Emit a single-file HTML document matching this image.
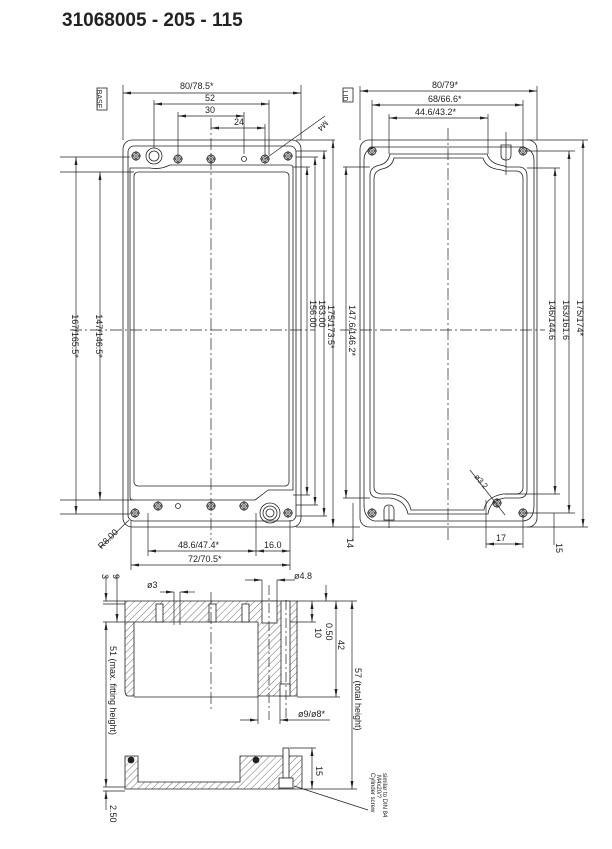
<!DOCTYPE html>
<html><head><meta charset="utf-8"><style>
html,body{margin:0;padding:0;background:#fff;}
svg{display:block}
text{font-family:"Liberation Sans",sans-serif;fill:#222;}
</style></head><body>
<svg width="612" height="849" viewBox="0 0 612 849" xmlns="http://www.w3.org/2000/svg">
<defs>
<pattern id="h" width="5" height="5" patternUnits="userSpaceOnUse" patternTransform="rotate(45)">
<line x1="0" y1="0" x2="0" y2="5" stroke="#333" stroke-width="0.7"/>
</pattern>
<marker id="a" markerWidth="8" markerHeight="6" refX="8" refY="3" orient="auto-start-reverse" markerUnits="userSpaceOnUse"><path d="M0,1.5 L8,3 L0,4.5z" fill="#222"/></marker>
<g id="hole"><circle r="4" fill="none" stroke="#222" stroke-width="0.9"/><circle r="2.4" fill="none" stroke="#222" stroke-width="0.7"/><line x1="-5" y1="0" x2="5" y2="0" stroke="#222" stroke-width="0.6"/><line x1="0" y1="-5" x2="0" y2="5" stroke="#222" stroke-width="0.6"/></g>
</defs>
<text x="62" y="26" font-size="19" font-weight="bold" fill="#222">31068005 - 205 - 115</text>

<g fill="none" stroke="#222" stroke-width="0.8">
<!-- BASE -->
<rect x="97" y="88" width="10" height="22"/>
<rect x="123" y="140" width="178" height="387" rx="9"/>
<rect x="128" y="146" width="168" height="375" rx="6"/>
<path d="M130,168 L130,497 Q130,500 133,500 L255,500 Q262,495 268,490 L293,490 L293,168 Q293,165 290,165 L170,165 Q160,170 150,168 Z"/>
<rect x="134" y="172" width="155" height="314" rx="4"/>
<circle cx="154" cy="156" r="8"/><circle cx="154" cy="156" r="5"/>
<circle cx="270" cy="513" r="10"/><circle cx="270" cy="513" r="7"/><circle cx="270" cy="513" r="4"/>
<circle cx="244" cy="159" r="2.5"/>
<circle cx="178" cy="506" r="2.5"/>
</g>
<use href="#hole" x="136" y="156"/><use href="#hole" x="178" y="159"/><use href="#hole" x="211" y="159"/><use href="#hole" x="265" y="159"/><use href="#hole" x="288" y="156"/>
<use href="#hole" x="135" y="513"/><use href="#hole" x="158" y="506"/><use href="#hole" x="211" y="506"/><use href="#hole" x="244" y="506"/><use href="#hole" x="288" y="513"/>

<g fill="none" stroke="#222" stroke-width="0.7">
<line x1="211" y1="118" x2="211" y2="540" stroke-dasharray="12,3,2,3"/>
<line x1="70" y1="330" x2="315" y2="330" stroke-dasharray="12,3,2,3"/>
<line x1="123" y1="85" x2="123" y2="140"/><line x1="301" y1="85" x2="301" y2="140"/>
<line x1="123" y1="93" x2="301" y2="93" marker-start="url(#a)" marker-end="url(#a)"/>
<line x1="154" y1="100" x2="154" y2="148"/><line x1="269" y1="100" x2="269" y2="155"/>
<line x1="154" y1="104" x2="269" y2="104" marker-start="url(#a)" marker-end="url(#a)"/>
<line x1="178" y1="112" x2="178" y2="154"/><line x1="244" y1="112" x2="244" y2="154"/>
<line x1="178" y1="116" x2="244" y2="116" marker-start="url(#a)" marker-end="url(#a)"/>
<line x1="265" y1="124" x2="265" y2="154"/>
<line x1="211" y1="128" x2="265" y2="128" marker-start="url(#a)" marker-end="url(#a)"/>
<line x1="265" y1="159" x2="325" y2="116"/>
<line x1="60" y1="157" x2="130" y2="157"/><line x1="60" y1="172" x2="134" y2="172"/>
<line x1="60" y1="500" x2="134" y2="500"/><line x1="60" y1="514" x2="130" y2="514"/>
<line x1="76" y1="157" x2="76" y2="514" marker-start="url(#a)" marker-end="url(#a)"/>
<line x1="100" y1="172" x2="100" y2="500" marker-start="url(#a)" marker-end="url(#a)"/>
<line x1="296" y1="140" x2="335" y2="140"/><line x1="296" y1="151" x2="327" y2="151"/>
<line x1="296" y1="157" x2="318" y2="157"/><line x1="293" y1="167" x2="310" y2="167"/>
<line x1="296" y1="527" x2="360" y2="527"/><line x1="296" y1="516" x2="327" y2="516"/>
<line x1="296" y1="505" x2="318" y2="505"/><line x1="293" y1="495" x2="310" y2="495"/>
<line x1="307" y1="167" x2="307" y2="495" marker-start="url(#a)" marker-end="url(#a)"/>
<line x1="315" y1="157" x2="315" y2="505" marker-start="url(#a)" marker-end="url(#a)"/>
<line x1="324" y1="151" x2="324" y2="516" marker-start="url(#a)" marker-end="url(#a)"/>
<line x1="333" y1="140" x2="333" y2="527" marker-start="url(#a)" marker-end="url(#a)"/>
<line x1="148" y1="513" x2="148" y2="556"/><line x1="256" y1="513" x2="256" y2="556"/>
<line x1="148" y1="551" x2="256" y2="551" marker-start="url(#a)" marker-end="url(#a)"/>
<line x1="290" y1="520" x2="290" y2="570"/>
<line x1="256" y1="551" x2="290" y2="551" marker-start="url(#a)" marker-end="url(#a)"/>
<line x1="131" y1="520" x2="131" y2="570"/>
<line x1="131" y1="565" x2="290" y2="565" marker-start="url(#a)" marker-end="url(#a)"/>
<line x1="129" y1="520" x2="100" y2="548"/>
</g>
<g font-size="9">
<text x="180" y="89">80/78.5*</text>
<text x="205" y="101">52</text>
<text x="205" y="113">30</text>
<text x="234" y="125">24</text>
<text x="178" y="548">48.6/47.4*</text>
<text x="264" y="548">16.0</text>
<text x="188" y="562">72/70.5*</text>
<text transform="translate(100,99) rotate(90)" font-size="7" text-anchor="middle" dy="3">BASE</text>
<text transform="translate(325,120) rotate(135)" font-size="8">M4</text>
<text transform="translate(96,544) rotate(-45)" font-size="9" dy="8">R8.00</text>
<text transform="translate(72,336) rotate(90)" text-anchor="middle">167/165.5*</text>
<text transform="translate(96,336) rotate(90)" text-anchor="middle">147/146.5*</text>
<text transform="translate(310,300) rotate(90)">156.00</text>
<text transform="translate(319,300) rotate(90)">163.00</text>
<text transform="translate(328,305) rotate(90)">175/173.5*</text>
</g>

<!-- LID -->
<g fill="none" stroke="#222" stroke-width="0.8">
<rect x="343" y="88" width="10" height="14"/>
<rect x="360" y="140" width="177" height="387" rx="9"/>
<path d="M364,160 Q364,150 374,147 L523,147 Q534,150 534,160 L534,505 Q534,521 522,521 L374,521 Q364,518 364,505 Z"/>
<path d="M370,175 Q370,167 380,165 Q388,163 390,154 L487,154 Q490,163 500,165 Q505,166 507,167 L520,167 Q527,168 527,176 L527,490 Q527,497 520,498 L505,498 Q490,500 488,514 L408,514 Q405,500 390,498 L378,498 Q370,497 370,490 Z"/>
<path d="M374,179 Q374,171 382,169 Q392,167 394,158 L483,158 Q486,167 496,169 Q502,170 505,171 L517,171 Q523,172 523,179 L523,487 Q523,493 517,494 L503,494 Q486,497 484,510 L411,510 Q408,496 392,494 L381,494 Q374,493 374,487 Z"/>
<path d="M501,145 L501,155 Q501,160 506,160 Q511,160 511,155 L511,145 Z"/>
<path d="M384,520 L384,510 Q384,505 389,505 Q394,505 394,510 L394,520 Z"/>
</g>
<use href="#hole" x="372" y="151"/><use href="#hole" x="523" y="151"/>
<use href="#hole" x="372" y="513"/><use href="#hole" x="523" y="513"/><use href="#hole" x="497" y="503"/>
<g fill="none" stroke="#222" stroke-width="0.7">
<line x1="448" y1="128" x2="448" y2="540" stroke-dasharray="12,3,2,3"/>
<line x1="340" y1="330" x2="545" y2="330" stroke-dasharray="12,3,2,3"/>
<line x1="506" y1="132" x2="506" y2="175"/><line x1="389" y1="506" x2="389" y2="528"/>
<line x1="360" y1="86" x2="360" y2="140"/><line x1="537" y1="86" x2="537" y2="140"/>
<line x1="360" y1="91" x2="537" y2="91" marker-start="url(#a)" marker-end="url(#a)"/>
<line x1="372" y1="100" x2="372" y2="147"/><line x1="523" y1="100" x2="523" y2="147"/>
<line x1="372" y1="105" x2="523" y2="105" marker-start="url(#a)" marker-end="url(#a)"/>
<line x1="389" y1="114" x2="389" y2="154"/><line x1="488" y1="114" x2="488" y2="154"/>
<line x1="389" y1="118" x2="488" y2="118" marker-start="url(#a)" marker-end="url(#a)"/>
<line x1="343" y1="167" x2="370" y2="167"/><line x1="343" y1="498" x2="370" y2="498"/>
<line x1="346" y1="167" x2="346" y2="498" marker-start="url(#a)" marker-end="url(#a)"/>
<line x1="527" y1="140" x2="588" y2="140"/><line x1="527" y1="151" x2="575" y2="151"/>
<line x1="527" y1="168" x2="560" y2="168"/>
<line x1="527" y1="527" x2="588" y2="527"/><line x1="523" y1="513" x2="575" y2="513"/>
<line x1="505" y1="494" x2="560" y2="494"/>
<line x1="555" y1="168" x2="555" y2="494" marker-start="url(#a)" marker-end="url(#a)"/>
<line x1="569" y1="151" x2="569" y2="513" marker-start="url(#a)" marker-end="url(#a)"/>
<line x1="583" y1="140" x2="583" y2="527" marker-start="url(#a)" marker-end="url(#a)"/>
<line x1="486" y1="500" x2="486" y2="548"/><line x1="523" y1="515" x2="523" y2="548"/>
<line x1="486" y1="544" x2="523" y2="544" marker-start="url(#a)" marker-end="url(#a)"/>
<line x1="353" y1="503" x2="353" y2="540"/><line x1="554" y1="513" x2="554" y2="545"/>
<line x1="470" y1="470" x2="505" y2="515"/>
</g>
<g font-size="9">
<text x="432" y="88">80/79*</text>
<text x="428" y="102">68/66.6*</text>
<text x="415" y="115">44.6/43.2*</text>
<text x="496" y="541">17</text>
<text transform="translate(346,96) rotate(90)" font-size="7" text-anchor="middle" dy="3">LID</text>
<text transform="translate(474,477) rotate(50)" font-size="8">ø3.2</text>
<text transform="translate(347,538) rotate(90)">14</text>
<text transform="translate(556,543) rotate(90)">15</text>
<text transform="translate(349,305) rotate(90)">147.6/146.2*</text>
<text transform="translate(549,300) rotate(90)">146/144.6</text>
<text transform="translate(563,300) rotate(90)">163/161.6</text>
<text transform="translate(577,300) rotate(90)">175/174*</text>
</g>

<!-- SECTION -->
<g stroke="#222" stroke-width="0.8">
<path d="M125,601 L297,601 L297,696 L258,696 L258,622 L134,622 L134,696 L128,696 Q125,696 125,690 Z" fill="url(#h)"/>
<rect x="156" y="604" width="7" height="18" fill="#fff"/>
<rect x="209" y="604" width="7" height="18" fill="#fff"/>
<rect x="242" y="604" width="7" height="18" fill="#fff"/>
<rect x="262" y="601" width="15" height="22" fill="#fff"/>
<rect x="281" y="601" width="9" height="90" fill="#fff"/>
<rect x="280" y="684" width="10" height="12" fill="#fff"/>
<line x1="134" y1="697" x2="258" y2="697" fill="none"/>
<path d="M125,756 L138,756 L138,782 L240,782 L240,756 L302,756 L302,789 L125,789 Z" fill="url(#h)"/>
<rect x="283" y="748" width="6" height="30" fill="#fff"/>
<rect x="279" y="778" width="14" height="10" fill="#fff"/>
<circle cx="131" cy="760" r="3" fill="#222"/><circle cx="256" cy="760" r="3" fill="#222"/>
</g>
<g fill="none" stroke="#222" stroke-width="0.7">
<line x1="211" y1="592" x2="211" y2="710" stroke-dasharray="12,3,2,3"/>
<line x1="269" y1="585" x2="269" y2="720" stroke-dasharray="10,3,2,3"/>
<line x1="286" y1="600" x2="286" y2="720" stroke-dasharray="10,3,2,3"/>
<line x1="262" y1="580" x2="262" y2="601"/><line x1="277" y1="580" x2="277" y2="601"/>
<line x1="245" y1="580" x2="262" y2="580" marker-end="url(#a)"/>
<line x1="295" y1="580" x2="277" y2="580" marker-end="url(#a)"/>
<line x1="174" y1="592" x2="174" y2="625"/><line x1="180" y1="592" x2="180" y2="625"/>
<line x1="160" y1="592" x2="174" y2="592" marker-end="url(#a)"/>
<line x1="195" y1="592" x2="180" y2="592" marker-end="url(#a)"/>
<line x1="258" y1="696" x2="258" y2="724"/><line x1="280" y1="696" x2="280" y2="724"/>
<line x1="240" y1="720" x2="258" y2="720" marker-end="url(#a)"/>
<line x1="330" y1="720" x2="280" y2="720" marker-end="url(#a)"/>
<line x1="297" y1="601" x2="357" y2="601"/><line x1="290" y1="622" x2="316" y2="622"/>
<line x1="297" y1="697" x2="340" y2="697"/><line x1="302" y1="789" x2="357" y2="789"/>
<line x1="290" y1="748" x2="316" y2="748"/>
<line x1="326" y1="585" x2="326" y2="601" marker-end="url(#a)"/>
<line x1="312" y1="601" x2="312" y2="622" marker-start="url(#a)" marker-end="url(#a)"/>
<line x1="336" y1="601" x2="336" y2="697" marker-start="url(#a)" marker-end="url(#a)"/>
<line x1="352" y1="601" x2="352" y2="789" marker-start="url(#a)" marker-end="url(#a)"/>
<line x1="312" y1="748" x2="312" y2="789" marker-start="url(#a)" marker-end="url(#a)"/>
<line x1="103" y1="601" x2="125" y2="601"/><line x1="103" y1="604" x2="125" y2="604"/>
<line x1="103" y1="622" x2="134" y2="622"/><line x1="103" y1="787" x2="125" y2="787"/>
<line x1="103" y1="791" x2="125" y2="791"/>
<line x1="106" y1="575" x2="106" y2="601" marker-end="url(#a)"/>
<line x1="117" y1="575" x2="117" y2="622" marker-end="url(#a)"/>
<line x1="106" y1="622" x2="106" y2="787" marker-start="url(#a)" marker-end="url(#a)"/>
<line x1="106" y1="810" x2="106" y2="791" marker-end="url(#a)"/>
<line x1="294" y1="786" x2="368" y2="810"/>
</g>
<g font-size="9">
<text x="147" y="588">ø3</text>
<text x="294" y="579">ø4.8</text>
<text x="298" y="717">ø9/ø8*</text>
<text transform="translate(102,574) rotate(90)">3</text>
<text transform="translate(113,574) rotate(90)">9</text>
<text transform="translate(326,623) rotate(90)">0.50</text>
<text transform="translate(315,628) rotate(90)">10</text>
<text transform="translate(338,640) rotate(90)">42</text>
<text transform="translate(355,668) rotate(90)">57 (total height)</text>
<text transform="translate(110,646) rotate(90)">51 (max. fitting height)</text>
<text transform="translate(316,766) rotate(90)">15</text>
<text transform="translate(110,805) rotate(90)">2.50</text>
<text transform="translate(371,773) rotate(90)" font-size="6" font-family="Liberation Serif">Cylinder screw</text>
<text transform="translate(377,775) rotate(90)" font-size="6" font-family="Liberation Serif">M4x20/?</text>
<text transform="translate(383,773) rotate(90)" font-size="6" font-family="Liberation Serif">similar to DIN 84</text>
</g>
</svg>
</body></html>
